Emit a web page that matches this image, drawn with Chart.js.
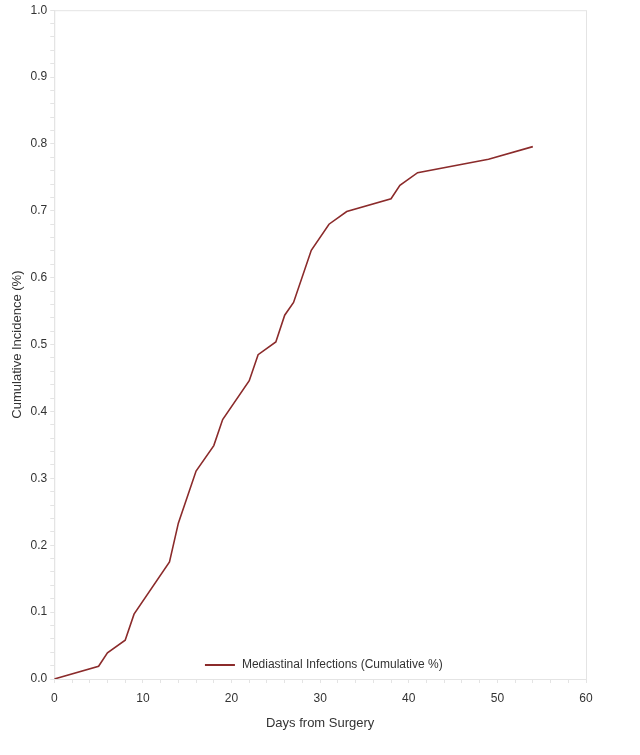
<!DOCTYPE html>
<html>
<head>
<meta charset="utf-8">
<script src="https://cdn.jsdelivr.net/npm/chart.js@4.4.1/dist/chart.umd.min.js"></script>
<style>
  html, body { margin: 0; padding: 0; background: #fff; }
  #wrap { width: 640px; height: 755px; }
</style>
</head>
<body>
<div id="wrap"><canvas id="chart"></canvas></div>
<script>
// days after surgery and cumulative incidence
var days = [0, 5, 6, 8, 9, 13, 14, 16, 18, 19, 22, 23, 25, 26, 27, 29, 31, 33, 38, 39, 41, 49, 54];
var incidence = [0, 0.019, 0.039, 0.058, 0.097, 0.175, 0.233, 0.311, 0.349, 0.388, 0.446, 0.485,
    0.504, 0.544, 0.563, 0.641, 0.680, 0.699, 0.718, 0.738, 0.757, 0.777, 0.796];
var seriesLabel = 'Mediastinal Infections (Cumulative %)';

var lineColor = '#8b2b2b';
var axisColor = '#e4e4e4';
var textColor = '#333333';
var fontFamily = '"Liberation Sans", Arial, sans-serif';

var points = days.map(function (d, i) {
    return {x: d, y: incidence[i]};
});

// light frame round the plot
var frame = {
    id: 'frame',
    beforeDatasetsDraw: function (chart) {
        var a = chart.chartArea;
        var ctx = chart.ctx;
        ctx.save();
        ctx.strokeStyle = axisColor;
        ctx.lineWidth = 1;
        ctx.strokeRect(a.left + 0.5, a.top + 0.5, a.right - a.left, a.bottom - a.top);
        ctx.restore();
    }
};

// legend sits inside the plot, near the bottom
var insideLegend = {
    id: 'insideLegend',
    afterDraw: function (chart) {
        var ctx = chart.ctx;
        var x = chart.scales.x.getPixelForValue(17);
        var y = chart.chartArea.bottom - 14;
        ctx.save();
        ctx.strokeStyle = lineColor;
        ctx.lineWidth = 2;
        ctx.beginPath();
        ctx.moveTo(x, y);
        ctx.lineTo(x + 30, y);
        ctx.stroke();
        ctx.fillStyle = textColor;
        ctx.font = '12px ' + fontFamily;
        ctx.textBaseline = 'middle';
        ctx.fillText(seriesLabel, x + 37, y);
        ctx.restore();
    }
};

new Chart(document.getElementById('chart'), {
    type: 'line',
    data: {
        datasets: [{
            label: seriesLabel,
            data: points,
            borderColor: lineColor,
            borderWidth: 1.6,
            pointRadius: 0,
            tension: 0,
            fill: false
        }]
    },
    options: {
        responsive: true,
        maintainAspectRatio: false,
        animation: false,
        layout: {
            padding: {top: 6, right: 54, bottom: 20, left: 10}
        },
        plugins: {
            legend: {display: false},
            tooltip: {enabled: false}
        },
        scales: {
            x: {
                type: 'linear',
                min: 0,
                max: 60,
                border: {color: axisColor},
                grid: {
                    drawOnChartArea: false,
                    color: axisColor,
                    tickLength: 4
                },
                ticks: {
                    stepSize: 2,
                    autoSkip: false,
                    maxRotation: 0,
                    color: textColor,
                    font: {family: fontFamily, size: 12},
                    padding: 8,
                    callback: function (v) {
                        return v % 10 === 0 ? String(v) : '';
                    }
                },
                title: {
                    display: true,
                    text: 'Days from Surgery',
                    color: textColor,
                    font: {family: fontFamily, size: 13},
                    padding: {top: 2}
                }
            },
            y: {
                min: 0,
                max: 1,
                border: {color: axisColor},
                grid: {
                    drawOnChartArea: false,
                    color: axisColor,
                    tickLength: 4
                },
                ticks: {
                    stepSize: 0.02,
                    autoSkip: false,
                    color: textColor,
                    font: {family: fontFamily, size: 12},
                    padding: 3,
                    callback: function (v) {
                        var r = Math.round(v * 100);
                        return r % 10 === 0 ? (r / 100).toFixed(1) : '';
                    }
                },
                title: {
                    display: true,
                    text: 'Cumulative Incidence (%)',
                    color: textColor,
                    font: {family: fontFamily, size: 13},
                    padding: {top: 0, bottom: 2}
                }
            }
        }
    },
    plugins: [frame, insideLegend]
});
</script>
</body>
</html>
